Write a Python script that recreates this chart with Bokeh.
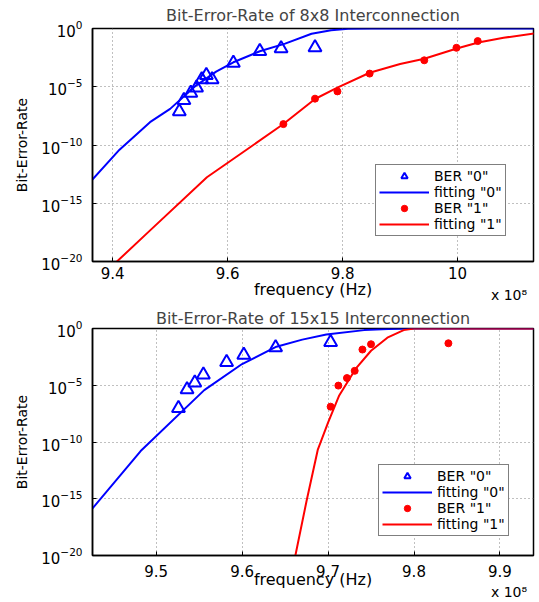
from bokeh.plotting import figure
from bokeh.layouts import column
from bokeh.models import Range1d, FixedTicker, Legend, LegendItem, LinearAxis
from bokeh.embed import file_html
from bokeh.resources import INLINE

FONT = "DejaVu Sans"
BLUE = "#0000ff"
RED = "#ff0000"

# ---------------- data (frequency in units of 1e8 Hz) ----------------
# 8x8 interconnection
f8_ber0 = [9.516, 9.524, 9.536, 9.546, 9.555, 9.563, 9.573, 9.610, 9.656, 9.693, 9.752]
ber8_0 = [7.6e-8, 6.8e-7, 2.9e-6, 8.3e-6, 4.1e-5, 9.5e-5, 4.1e-5, 1.1e-3, 1.12e-2, 1.9e-2, 2.3e-2]
f8_ber1 = [9.697, 9.752, 9.791, 9.847, 9.942, 9.998, 10.035]
ber8_1 = [6.2e-9, 9.5e-7, 4.0e-6, 1.35e-4, 1.86e-3, 2.2e-2, 8.3e-2]
f8_fit0 = [9.355, 9.412, 9.465, 9.50, 9.545, 9.58, 9.61, 9.656, 9.70, 9.746, 9.78, 9.81, 9.85, 10.14]
fit8_0 = [3.2e-14, 4.0e-11, 9.1e-9, 1.26e-7, 1.26e-5, 2.0e-4, 1.26e-3, 1.12e-2, 5.0e-2, 0.355, 0.71, 0.93, 1.0, 1.0]
f8_fit1 = [9.40, 9.468, 9.564, 9.636, 9.697, 9.752, 9.79, 9.847, 9.90, 9.942, 10.0, 10.036, 10.08, 10.14]
fit8_1 = [4.5e-21, 6.3e-18, 1.7e-13, 5.0e-11, 6.3e-9, 8.9e-7, 7.9e-6, 1.6e-4, 8.9e-4, 2.5e-3, 2.0e-2, 6.3e-2, 0.16, 0.42]

# 15x15 interconnection
f15_ber0 = [9.526, 9.536, 9.545, 9.555, 9.582, 9.602, 9.639, 9.703]
ber15_0 = [9.3e-8, 4.2e-6, 1.7e-5, 8.3e-5, 1.05e-3, 4.6e-3, 2.1e-2, 6.0e-2]
f15_ber1 = [9.703, 9.712, 9.722, 9.731, 9.740, 9.750, 9.840]
ber15_1 = [1.3e-7, 9.3e-6, 4.3e-5, 1.86e-4, 1.4e-2, 4.1e-2, 5.0e-2]
f15_fit0 = [9.415, 9.426, 9.482, 9.556, 9.600, 9.640, 9.670, 9.698, 9.742, 9.770, 9.80, 9.95]
fit15_0 = [1.4e-17, 1.4e-16, 1.6e-11, 3.7e-6, 7.4e-4, 2.5e-2, 0.105, 0.30, 0.72, 0.91, 1.0, 1.0]
f15_fit1 = [9.659, 9.662, 9.675, 9.688, 9.700, 9.713, 9.732, 9.750, 9.769, 9.788, 9.800, 9.95]
fit15_1 = [7.9e-22, 1e-20, 6.3e-16, 2.0e-11, 5.0e-9, 1.26e-6, 2.75e-4, 1.1e-2, 0.155, 0.72, 1.0, 1.0]

# axes
y_ticks = [1e-20, 1e-15, 1e-10, 1e-5, 1.0]
x_ticks_8 = [9.4, 9.6, 9.8, 10.0]
x_labels_8 = ["9.4", "9.6", "9.8", "10"]
x_ticks_15 = [9.5, 9.6, 9.7, 9.8, 9.9]
x_labels_15 = ["9.5", "9.6", "9.7", "9.8", "9.9"]
x_range_8 = (9.365, 10.132)
x_range_15 = (9.426, 9.939)
legend_labels = ['BER "0"', 'fitting "0"', 'BER "1"', 'fitting "1"']
scale_text = "x 10\u2078"

W = 539
LEFT = 92
RIGHT = 6


def make_fig(title, xr, xticks, xlabels, height, top, bottom, title_standoff,
             tick_standoff, label_standoff, scale_standoff,
             fb0, b0, fb1, b1, ff0, y0, ff1, y1, legend_loc):
    p = figure(width=W, height=height, x_range=Range1d(*xr),
               y_range=Range1d(1e-20, 1.0), y_axis_type="log",
               output_backend="svg", toolbar_location=None,
               min_border_left=LEFT, min_border_right=RIGHT,
               min_border_top=top, min_border_bottom=bottom, title=title)
    p.background_fill_color = "white"
    p.border_fill_color = "white"
    p.outline_line_color = "black"
    p.outline_line_width = 1.5

    p.title.align = "center"
    p.title.text_font = FONT
    p.title.text_font_size = "16px"
    p.title.text_font_style = "normal"
    p.title.standoff = title_standoff

    yt = FixedTicker(ticks=y_ticks)
    p.yaxis.ticker = yt
    p.ygrid.ticker = yt
    xt = FixedTicker(ticks=xticks)
    p.xaxis.ticker = xt
    p.xgrid.ticker = xt
    p.xaxis.major_label_overrides = dict(zip(xticks, xlabels))

    for ax in (p.xaxis[0], p.yaxis[0]):
        ax.axis_line_width = 1.5
        ax.axis_line_color = "black"
        ax.major_tick_in = 4
        ax.major_tick_out = 0
        ax.minor_tick_in = 0
        ax.minor_tick_out = 0
        ax.minor_tick_line_color = None
        ax.major_label_text_font = FONT
        ax.major_label_text_font_size = "15px"
        ax.major_label_text_color = "black"
        ax.axis_label_text_font = FONT
        ax.axis_label_text_font_style = "normal"
        ax.axis_label_text_color = "black"
    p.xaxis.axis_label = "frequency (Hz)"
    p.xaxis.axis_label_text_font_size = "16px"
    p.xaxis.major_label_standoff = tick_standoff
    p.xaxis.axis_label_standoff = label_standoff
    p.yaxis.axis_label = "Bit-Error-Rate"
    p.yaxis.axis_label_text_font_size = "14px"
    p.yaxis.major_label_standoff = 10
    p.yaxis.axis_label_standoff = 8

    # "x 10^8" multiplier, right-aligned under the x axis
    frame_w = W - LEFT - RIGHT
    xs = xr[0] + (frame_w - 24.5) / frame_w * (xr[1] - xr[0])
    sc = LinearAxis(ticker=FixedTicker(ticks=[xs]),
                    major_label_overrides={xs: scale_text},
                    axis_line_color=None, major_tick_line_color=None,
                    minor_tick_line_color=None,
                    major_tick_in=0, major_tick_out=0, minor_tick_in=0, minor_tick_out=0,
                    major_label_standoff=scale_standoff,
                    major_label_text_font=FONT, major_label_text_font_size="14px",
                    major_label_text_color="black")
    p.add_layout(sc, "below")

    for g in (p.xgrid[0], p.ygrid[0]):
        g.grid_line_color = "#808080"
        g.grid_line_dash = "1 3"
        g.grid_line_width = 1
        g.grid_line_alpha = 1.0

    r0 = p.scatter(fb0, b0, marker="triangle", size=13, fill_color=None,
                   line_color=BLUE, line_width=2)
    l0 = p.line(ff0, y0, line_color=BLUE, line_width=2)
    r1 = p.scatter(fb1, b1, marker="circle", size=7, fill_color=RED,
                   line_color=RED, line_width=1)
    l1 = p.line(ff1, y1, line_color=RED, line_width=2)

    legend = Legend(items=[LegendItem(label=legend_labels[0], renderers=[r0]),
                           LegendItem(label=legend_labels[1], renderers=[l0]),
                           LegendItem(label=legend_labels[2], renderers=[r1]),
                           LegendItem(label=legend_labels[3], renderers=[l1])],
                    location=legend_loc)
    legend.border_line_color = "black"
    legend.border_line_width = 1.5
    legend.background_fill_color = "white"
    legend.background_fill_alpha = 1.0
    legend.label_text_font = FONT
    legend.label_text_font_size = "14px"
    legend.label_text_color = "black"
    legend.glyph_width = 50
    legend.glyph_height = 16
    legend.label_height = 16
    legend.label_standoff = 5
    legend.spacing = 0
    legend.padding = 3
    legend.margin = 0
    p.add_layout(legend)
    return p


p1 = make_fig("Bit-Error-Rate of 8x8 Interconnection", x_range_8, x_ticks_8, x_labels_8,
              305, 28, 44, 7, 5, -2, -15,
              f8_ber0, ber8_0, f8_ber1, ber8_1, f8_fit0, fit8_0,
              f8_fit1, fit8_1, (283, 25))
p2 = make_fig("Bit-Error-Rate of 15x15 Interconnection", x_range_15, x_ticks_15, x_labels_15,
              297, 21, 46, 2, 9, -10, -8,
              f15_ber0, ber15_0, f15_ber1, ber15_1, f15_fit0, fit15_0,
              f15_fit1, fit15_1, (286, 19))

p = column(p1, p2)
open("out.html", "w").write(file_html(p, INLINE))
